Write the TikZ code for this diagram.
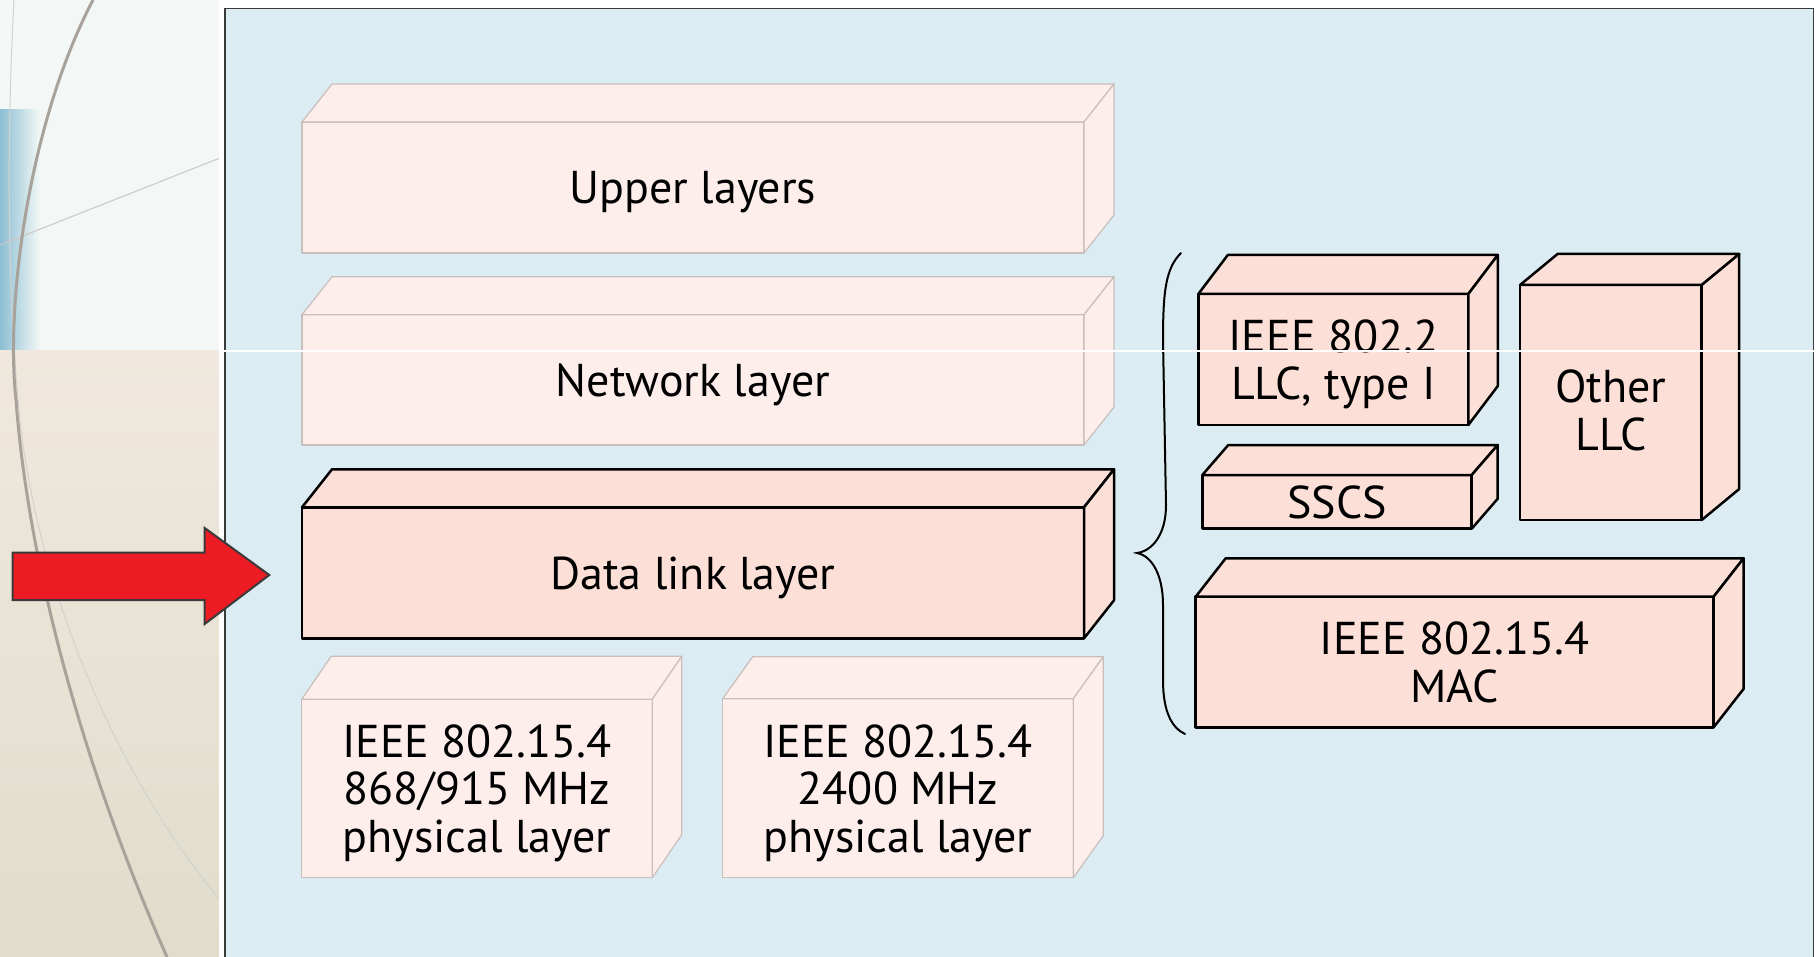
\documentclass[tikz,border=0pt]{standalone}
\usepackage{fontspec}
\setmainfont{PT Sans}
\definecolor{panelfill}{RGB}{220,236,243}
\definecolor{litefill}{RGB}{253,238,236}
\definecolor{liteline}{RGB}{200,190,188}
\definecolor{darkfill}{RGB}{252,224,215}
\definecolor{arrowred}{RGB}{237,28,36}
\definecolor{arrowline}{RGB}{58,58,58}
\definecolor{swirl}{RGB}{168,162,154}
\definecolor{bgblue}{RGB}{140,190,212}
\definecolor{bglight}{RGB}{243,248,246}
\definecolor{bgbeige}{RGB}{240,232,222}
\definecolor{bgbeigedark}{RGB}{224,221,203}
\newcommand\boxfaces[4]{%
  \filldraw[#4] (#1.north west) -- ([shift={(#2,-#3)}]#1.north west) -- ([shift={(#2,-#3)}]#1.north east) -- (#1.north east) -- cycle;
  \filldraw[#4] (#1.north east) -- ([shift={(#2,-#3)}]#1.north east) -- ([shift={(#2,-#3)}]#1.south east) -- (#1.south east) -- cycle;}
\tikzset{
  lite/.style={draw=liteline, fill=litefill, line width=1.2pt, line join=round},
  dark/.style={draw=black, fill=darkfill, line width=2.5pt, line join=round},
  face/.style={rectangle, anchor=north west, outer sep=0pt, inner sep=0pt, text depth=0pt,
    align=center, font=\fontsize{46}{47.5}\selectfont},
}
\begin{document}
\begin{tikzpicture}[x=1pt,y=-1pt]
\useasboundingbox (0,0) rectangle (1818,957);
% background on the left
\fill[white] (0,0) rectangle (1818,957);
\fill[bglight] (0,0) rectangle (220,351);
\shade[left color=bgblue, right color=bglight] (0,110) rectangle (40,351);
\shade[top color=bgbeige, bottom color=bgbeigedark] (0,351) rectangle (220,957);
\draw[swirl!60, line width=1pt] (0,245) -- (220,158);
\draw[swirl!50, line width=1pt] (14,0) .. controls (6,150) and (8,300) .. (20,420) .. controls (40,600) and (120,780) .. (220,900);
\draw[swirl, line width=3pt] (93,0) .. controls (30,120) and (5,300) .. (16,400) .. controls (28,560) and (80,760) .. (167,957);
% panel
\fill[white] (219,0) rectangle (1818,957);
\filldraw[fill=panelfill, draw=arrowline, line width=1.5pt] (225,8.5) rectangle (1813.5,975);
% left stack
\node[face, lite, minimum width=782, minimum height=131] (upper) at (302,122) {Upper layers};
\boxfaces{upper}{30}{38}{lite}
\node[face, lite, minimum width=782, minimum height=130.3] (network) at (302,314.7) {Network layer};
\boxfaces{network}{30}{38}{lite}
\node[face, dark, minimum width=782, minimum height=131] (datalink) at (302,507.3) {Data link layer};
\boxfaces{datalink}{30}{38}{dark}
\node[face, lite, minimum width=350.6, minimum height=178.4] (phyA) at (301.7,699.3) {IEEE 802.15.4\\868/915 MHz\\physical layer};
\boxfaces{phyA}{29.5}{43}{lite}
\node[face, lite, minimum width=350.6, minimum height=179] (phyB) at (722.7,698.7) {IEEE 802.15.4\\2400 MHz\\physical layer};
\boxfaces{phyB}{30}{42}{lite}
% right stack
\node[face, dark, minimum width=270, minimum height=131] (llc) at (1198.3,294) {IEEE 802.2\\LLC, type I};
\boxfaces{llc}{29.5}{39}{dark}
\node[face, dark, minimum width=269.4, minimum height=53.7] (sscs) at (1202.3,475) {SSCS};
\boxfaces{sscs}{26}{30}{dark}
\node[face, dark, text height=95pt, minimum width=181.7, minimum height=235] (other) at (1520,285) {Other\\LLC};
\boxfaces{other}{37.5}{31}{dark}
\node[face, dark, minimum width=517.9, minimum height=130.6] (mac) at (1195.7,596.7) {IEEE 802.15.4\\MAC};
\boxfaces{mac}{30}{38.4}{dark}
% brace
\draw[line width=2pt, line cap=round] (1181,253) .. controls (1166,268) and (1163,290) .. (1163,340)
  -- (1166,505) .. controls (1166,535) and (1152,551) .. (1137,553)
  .. controls (1152,556) and (1163,575) .. (1163,605) -- (1163,680)
  .. controls (1163,712) and (1172,728) .. (1185,734);
% white scan line
\draw[white, line width=1.2pt] (222,351) -- (1818,351);
% red arrow
\coordinate (arrowtip) at (269.3,575);
\filldraw[fill=arrowred, draw=arrowline, line width=2pt, line join=miter]
  (12.7,552.5) -- (204.7,552.5) -- (204.7,528) -- (arrowtip) -- (204.7,624) -- (204.7,600) -- (12.7,600) -- cycle;
\end{tikzpicture}
\end{document}
